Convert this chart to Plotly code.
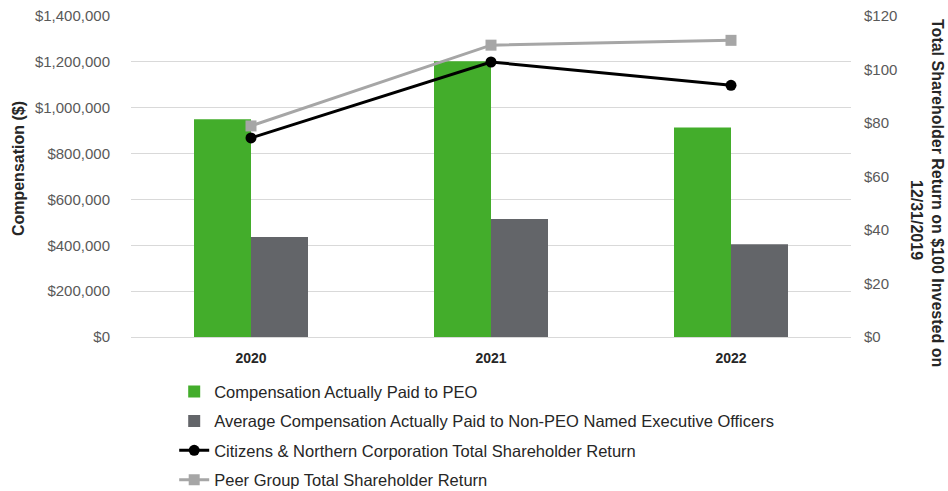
import plotly.graph_objects as go

years = ["2020", "2021", "2022"]
peo_cap = [950000, 1203000, 914000]
neo_cap = [436000, 515000, 404000]
cnb_tsr = [74.4, 102.8, 94.1]
peer_tsr = [78.9, 109.1, 110.9]
left_ticks = [0, 200000, 400000, 600000, 800000, 1000000, 1200000, 1400000]
left_labels = ["$0", "$200,000", "$400,000", "$600,000", "$800,000", "$1,000,000", "$1,200,000", "$1,400,000"]
right_ticks = [0, 20, 40, 60, 80, 100, 120]
right_labels = ["$0", "$20", "$40", "$60", "$80", "$100", "$120"]

FONT = "Liberation Sans, Arial, sans-serif"
TXT = "#404040"

fig = go.Figure()
fig.add_trace(go.Bar(x=years, y=peo_cap, name="Compensation Actually Paid to PEO",
                     marker=dict(color="#43ad2b", line=dict(width=0)), legendgroup="a"))
fig.add_trace(go.Bar(x=years, y=neo_cap, name="Average Compensation Actually Paid to Non-PEO Named Executive Officers",
                     marker=dict(color="#636569", line=dict(width=0)), legendgroup="b"))
fig.add_trace(go.Scatter(x=years, y=cnb_tsr, name="Citizens & Northern Corporation Total Shareholder Return",
                         mode="lines+markers", yaxis="y2",
                         line=dict(color="#000000", width=3),
                         marker=dict(symbol="circle", size=11, color="#000000"), legendgroup="c"))
fig.add_trace(go.Scatter(x=years, y=peer_tsr, name="Peer Group Total Shareholder Return",
                         mode="lines+markers", yaxis="y2",
                         line=dict(color="#a6a6a6", width=3),
                         marker=dict(symbol="square", size=11, color="#a6a6a6"), legendgroup="d"))

fig.update_layout(
    width=948, height=491,
    margin=dict(l=131, r=97, t=16, b=154, autoexpand=False),
    paper_bgcolor="white", plot_bgcolor="white",
    font=dict(family=FONT, size=14, color=TXT),
    barmode="group", bargap=0.525, bargroupgap=0,
    showlegend=True,
    legend=dict(x=0.060, y=-0.116, xanchor="left", yanchor="top", orientation="v",
                font=dict(family=FONT, size=16.5, color="#262626"),
                tracegroupgap=5, itemwidth=30, bgcolor="rgba(0,0,0,0)"),
    xaxis=dict(type="category", showgrid=False, showline=True, linecolor="#d9d9d9", linewidth=1,
               ticks="", tickfont=dict(family=FONT, size=14, color="#262626", weight="bold"),
               ticklabelstandoff=8),
    yaxis=dict(range=[0, 1400000], tickvals=left_ticks, ticktext=left_labels,
               showgrid=True, gridcolor="#d9d9d9", gridwidth=1, zeroline=False,
               showline=False, ticks="", ticklabelstandoff=20,
               tickfont=dict(family=FONT, size=15, color="#595959")),
    yaxis2=dict(range=[0, 120], tickvals=right_ticks, ticktext=right_labels,
                overlaying="y", side="right", showgrid=False, zeroline=False,
                showline=False, ticks="", ticklabelstandoff=12,
                tickfont=dict(family=FONT, size=15, color="#595959")),
    annotations=[
        dict(text="<b>Compensation ($)</b>", xref="paper", yref="paper",
             x=-0.157, y=0.526, xanchor="center", yanchor="middle", textangle=-90,
             showarrow=False, font=dict(family=FONT, size=16, color="#262626")),
        dict(text="<b>Total Shareholder Return on $100 Invested on</b>", xref="paper", yref="paper",
             x=1.1194, y=0.4486, xanchor="center", yanchor="middle", textangle=90,
             showarrow=False, font=dict(family=FONT, size=16, color="#262626")),
        dict(text="<b>12/31/2019</b>", xref="paper", yref="paper",
             x=1.0903, y=0.3645, xanchor="center", yanchor="middle", textangle=90,
             showarrow=False, font=dict(family=FONT, size=16, color="#262626")),
    ],
)

fig.write_html("out.html")
